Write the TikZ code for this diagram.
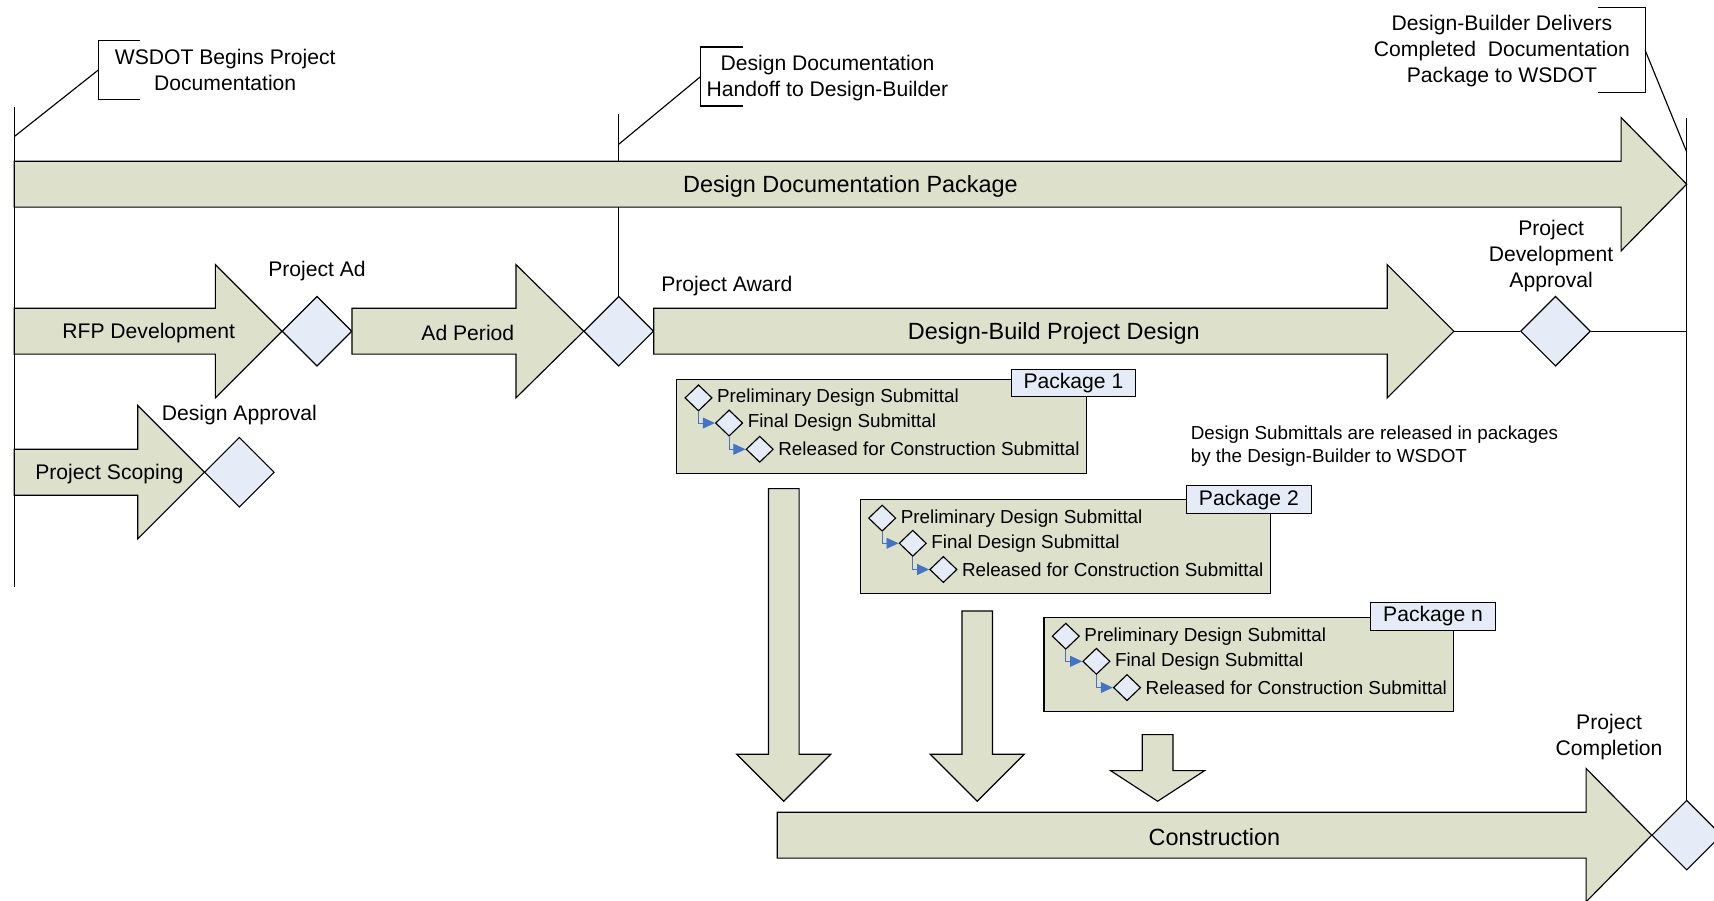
\documentclass[tikz,border=0pt]{standalone}
\usepackage{fontspec}
\setmainfont{Liberation Sans}
\usetikzlibrary{arrows.meta, calc, positioning, shapes.geometric}
\definecolor{olim}{HTML}{DDE0CB}
\definecolor{bulm}{HTML}{E6ECF7}
\definecolor{blum}{HTML}{4472C4}

\begin{document}
\begin{tikzpicture}[x=0.02cm, y=-0.02cm, line width=0.6pt,
        blk/.style={draw, fill=olim},
        ms/.style={diamond, draw, fill=bulm, inner sep=0pt, minimum width=1.28cm, minimum height=1.28cm},
        mss/.style={diamond, draw, fill=bulm, inner sep=0pt, minimum width=0.5cm, minimum height=0.48cm},
        lbig/.style={font=\fontsize{12.2}{14}\selectfont, yshift=-1pt},
        lmed/.style={font=\fontsize{11}{13.5}\selectfont, align=center, yshift=-1pt},
        lsma/.style={font=\fontsize{9.8}{12}\selectfont},
        blu/.style={draw=blum, line width=0.5pt, -{Triangle[length=0.22cm, width=0.2cm]}}]
        \clip (0,0) rectangle (1568,824);

        % milestones
        \node[ms] (pad) at (290,303) {};
        \node[ms] (paw) at (566,303) {};
        \node[ms] (pda) at (1423,303) {};
        \node[ms] (dap) at (219,432) {};
        \node[ms] (pco) at (1543,764) {};

        % time lines and callouts
        \coordinate (lt) at (13,98);
        \coordinate (lb) at (13,537);
        \coordinate (mt) at (566,104);
        \coordinate (rt) at (1543,108);
        \coordinate (dbt) at (1330,303);
        \draw (lt) -- (lb);
        \draw (mt) -- (paw.north);
        \draw (rt) -- (pco.north);
        \draw (dbt) -- (pda.west);
        \draw (pda.east) -- (pda.east -| rt);

        \draw (128,37) -- (90,37) -- (90,91) -- (128,91);
        \draw (680,43) -- (641,43) -- (641,97) -- (680,97);
        \draw (1462,7) -- (1505,7) -- (1505,85) -- (1462,85);
        \coordinate (c1a) at (13,125);   \coordinate (c1b) at (90,64);
        \coordinate (c2a) at (566,132);  \coordinate (c2b) at (641,70);
        \coordinate (c3a) at (1543,139); \coordinate (c3b) at (1505,46);
        \draw (c1a) -- (c1b);
        \draw (c2a) -- (c2b);
        \draw (c3a) -- (c3b);

        % block arrows
        \foreach \xa/\xb/\xc/\yc in {13/1483/1543/168.5, 13/197/258/303, 322/472/534/303, 598/1269/1330/303, 13/126/187/432, 711/1451/1511/764}
            \draw[blk] (\xa,\yc-21) -- (\xb,\yc-21) -- (\xb,\yc-61) -- (\xc,\yc) -- (\xb,\yc+61) -- (\xb,\yc+21) -- (\xa,\yc+21) -- cycle;

        \node[lbig] (tdd) at (778,168.5) {Design Documentation Package};
        \node[lbig] (tdb) at (964,303) {Design-Build Project Design};
        \node[lbig] (tco) at (1111,764) {Construction};
        \node[lmed] (trfp) at (136,303) {RFP Development};
        \node[lmed] (tadp) at (428,303) {Ad Period};
        \node[lmed] (tsco) at (100,432) {Project Scoping};
        \node[lmed] (lpad) at (290,246) {Project Ad};
        \node[lmed] (lpaw) at (665,260) {Project Award};
        \node[lmed] (ldap) at (219,378) {Design Approval};
        \node[lmed] (lpda) at (1419,232.5) {Project\\Development\\Approval};
        \node[lmed] (lpco) at (1472,672.5) {Project\\Completion};
        \node[lmed] (lc1) at (206,62.5) {WSDOT Begins Project\\Documentation};
        \node[lmed] (lc2) at (757,70) {Design Documentation\\Handoff to Design-Builder};
        \node[lmed] (lc3) at (1374,45) {Design-Builder Delivers\\Completed~ Documentation\\Package to WSDOT};
        \node[lsma, anchor=west, align=left] (note) at (1083,408.5) {Design Submittals are released in packages\\by the Design-Builder to WSDOT};

        % submittal packages
        \foreach \px/\py/\pn/\lx/\ly in {619/347/1/982/350.5, 787/457/2/1142.5/457, 955/565/n/1311/564} {
            \draw[blk] (\px,\py) rectangle (\px+375,\py+86);
            \node[draw, fill=bulm, lmed, yshift=1pt, inner sep=0pt, minimum width=2.28cm, minimum height=0.5cm] (pk\pn) at (\lx,\ly) {Package \pn};
            \node[mss] (s\pn-a) at (\px+20,\py+17) {};
            \node[mss] (s\pn-b) at (\px+48,\py+40) {};
            \node[mss] (s\pn-c) at (\px+76,\py+64) {};
            \node[lsma, anchor=west, inner sep=2pt] at (s\pn-a.east) {Preliminary Design Submittal};
            \node[lsma, anchor=west, inner sep=2pt] at (s\pn-b.east) {Final Design Submittal};
            \node[lsma, anchor=west, inner sep=2pt] at (s\pn-c.east) {Released for Construction Submittal};
            \draw[blu] (s\pn-a.south) |- (s\pn-b.west);
            \draw[blu] (s\pn-b.south) |- (s\pn-c.west);
        }

        \foreach \xm/\ya/\yb in {717/447/690, 894/559/690, 1059/672/705}
            \draw[blk] (\xm-14,\ya) -- (\xm+14,\ya) -- (\xm+14,\yb) -- (\xm+43,\yb) -- (\xm,733) -- (\xm-43,\yb) -- (\xm-14,\yb) -- cycle;
    \end{tikzpicture}
\end{document}
